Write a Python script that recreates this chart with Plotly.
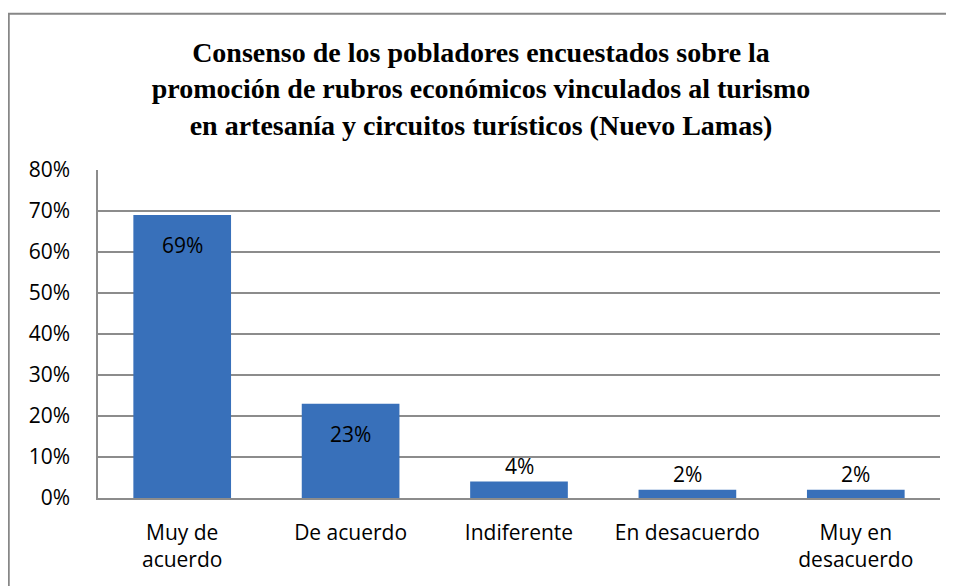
import plotly.graph_objects as go

categories = ["Muy de<br>acuerdo", "De acuerdo", "Indiferente", "En desacuerdo", "Muy en<br>desacuerdo"]
values = [0.69, 0.23, 0.04, 0.02, 0.02]
labels = ["69%", "23%", "4%", "2%", "2%"]
inside = [True, True, False, False, False]

TITLE = ("<b>Consenso de los pobladores encuestados sobre la<br>"
         "promoción de rubros económicos vinculados al turismo<br>"
         "en artesanía y circuitos turísticos (Nuevo Lamas)</b>")

BAR_BLUE = "#3870BA"
GRID = "#8C8C8C"
FONT = "Open Sans"
TITLE_FONT = "Liberation Serif, Times New Roman, serif"

# page body adds an 8px offset, so the figure is drawn 8px smaller
fig = go.Figure(go.Bar(
    x=categories, y=values,
    width=0.58,
    marker=dict(color=BAR_BLUE, line=dict(width=0)),
    hoverinfo="skip",
))

# value labels: inside the two tall bars, above the short ones
for cat, val, lab, ins in zip(categories, values, labels, inside):
    fig.add_annotation(
        x=cat, y=val, text=lab, showarrow=False,
        yanchor="top" if ins else "bottom",
        yshift=-14 if ins else 0,
        font=dict(family=FONT, size=21, color="black"),
    )

# outer chart frame
fig.add_shape(type="rect", xref="paper", yref="paper",
              x0=-0.106, x1=1.03, y0=-0.35, y1=1.476,
              line=dict(color="#878787", width=2), fillcolor="rgba(0,0,0,0)")

fig.update_layout(
    width=946, height=578,
    paper_bgcolor="white", plot_bgcolor="white",
    margin=dict(l=90, r=14, t=162, b=88),
    showlegend=False,
    title=dict(
        text=TITLE, x=0.5, xref="container", xanchor="center",
        y=0.907, yref="container", yanchor="top",
        font=dict(family=TITLE_FONT, size=28, color="black"),
    ),
    font=dict(family=FONT, size=21, color="black"),
    xaxis=dict(
        showgrid=False, showline=True, linecolor=GRID, linewidth=1.5,
        ticks="", ticklabelstandoff=15,
        tickfont=dict(family=FONT, size=21, color="black"),
    ),
    yaxis=dict(
        range=[0, 0.8], dtick=0.1, tickformat=".0%",
        showgrid=True, gridcolor=GRID, gridwidth=1.5,
        showline=True, linecolor=GRID, linewidth=1.5,
        zeroline=False, ticks="", ticklabelstandoff=22,
        tickfont=dict(family=FONT, size=21, color="black"),
    ),
)

fig.write_html("out.html")
